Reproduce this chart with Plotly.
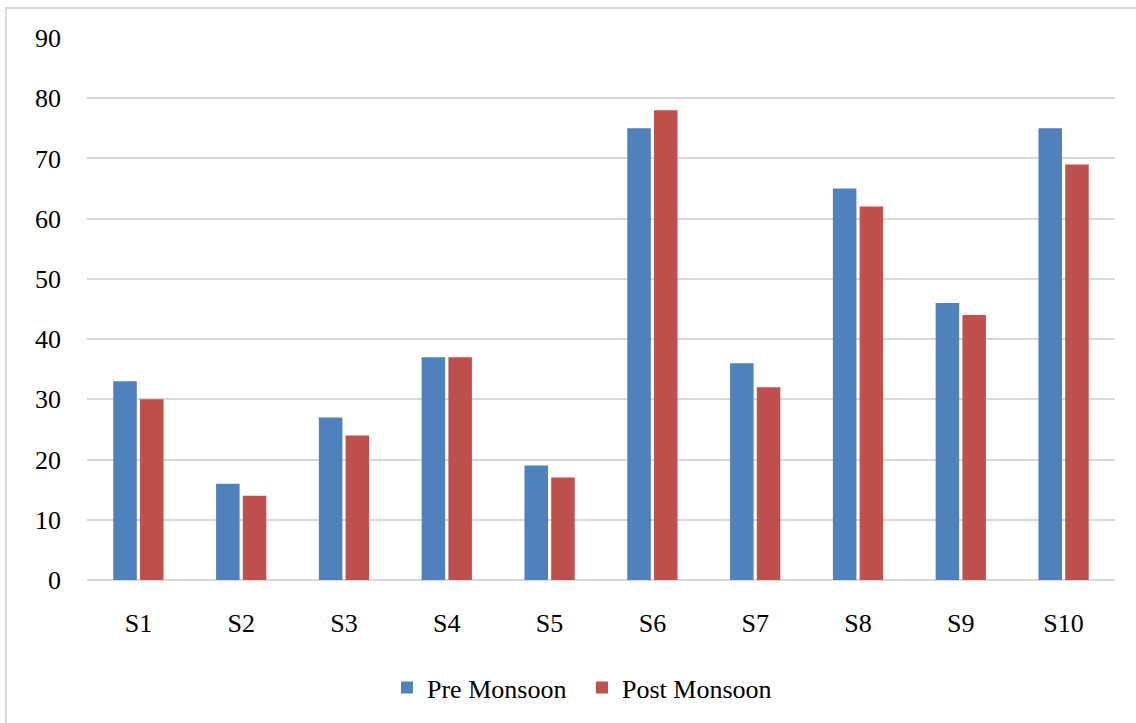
import plotly.graph_objects as go

sites = ["S1", "S2", "S3", "S4", "S5", "S6", "S7", "S8", "S9", "S10"]
pre_monsoon = [33, 16, 27, 37, 19, 75, 36, 65, 46, 75]
post_monsoon = [30, 14, 24, 37, 17, 78, 32, 62, 44, 69]
y_ticks = [0, 10, 20, 30, 40, 50, 60, 70, 80, 90]

FONT = "Liberation Serif, Times New Roman, serif"

fig = go.Figure()
fig.add_trace(go.Bar(name="Pre Monsoon", x=sites, y=pre_monsoon,
                     marker=dict(color="#4F81BD", line=dict(width=0))))
fig.add_trace(go.Bar(name="Post Monsoon", x=sites, y=post_monsoon,
                     marker=dict(color="#C0504D", line=dict(width=0))))

W, H = 1136, 723
ml, mr, mt, mb = 87, 21, 38, 141
pw, ph = W - ml - mr, H - mt - mb

fig.update_layout(
    width=W, height=H,
    margin=dict(l=ml, r=mr, t=mt, b=mb, pad=0),
    paper_bgcolor="white", plot_bgcolor="white",
    barmode="group", bargap=0.48, bargroupgap=0.12,
    font=dict(family=FONT, size=26, color="black"),
    showlegend=True,
    legend=dict(orientation="h", x=(582 - ml) / pw, xanchor="center",
                y=(H - 690 - mb) / ph, yanchor="middle",
                font=dict(family=FONT, size=26), itemwidth=30,
                entrywidth=150, entrywidthmode="pixels",
                traceorder="normal"),
    xaxis=dict(showgrid=False, showline=False, ticks="", zeroline=False,
               ticklabelstandoff=25, tickfont=dict(size=26)),
    yaxis=dict(range=[0, 90], tickvals=y_ticks, showgrid=True,
               gridcolor="#D9D9D9", gridwidth=2, zeroline=True,
               zerolinecolor="#D9D9D9", zerolinewidth=2, showline=False,
               ticks="", ticklabelstandoff=25, tickfont=dict(size=26)),
    shapes=[dict(type="rect", xref="paper", yref="paper",
                 x0=(6 - ml) / pw, x1=(W + 10 - ml) / pw,
                 y0=-(H + 10 - mt - ph) / ph, y1=(H - 8 - mb) / ph,
                 line=dict(color="#D9D9D9", width=2), layer="below")],
)

fig.write_html("out.html")
